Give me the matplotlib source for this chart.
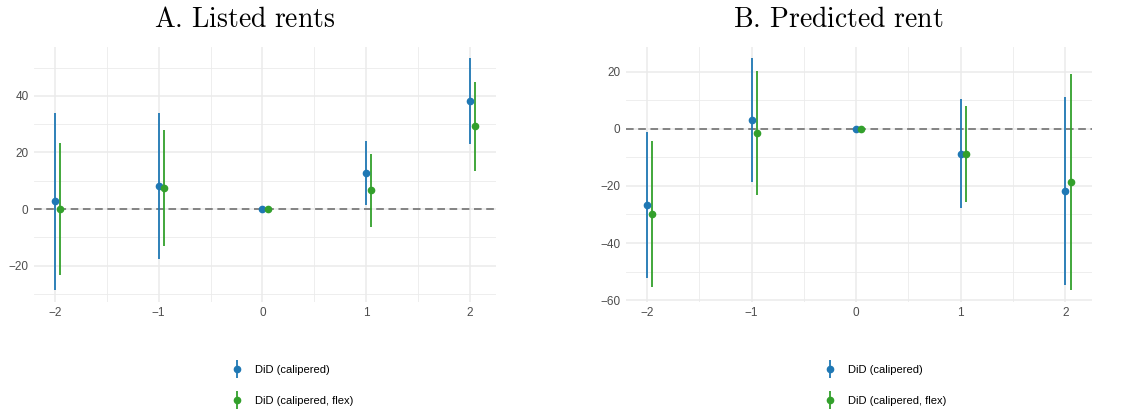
import numpy as np
import matplotlib.pyplot as plt
from matplotlib.lines import Line2D
from matplotlib.legend_handler import HandlerTuple

periods = [-2, -1, 0, 1, 2]
labels = ["DiD (calipered)", "DiD (calipered, flex)"]

# A. Listed rents
a_cal = [2.7, 8.3, 0.0, 12.6, 38.3]
a_cal_lo = [-28.6, -17.6, 0.0, 1.3, 23.0]
a_cal_hi = [34.0, 34.0, 0.0, 23.9, 53.3]
a_flex = [0.0, 7.4, 0.0, 6.6, 29.3]
a_flex_lo = [-23.4, -12.9, 0.0, -6.4, 13.3]
a_flex_hi = [23.4, 27.9, 0.0, 19.5, 45.0]

# B. Predicted rent
b_cal = [-26.6, 3.2, 0.0, -8.8, -21.7]
b_cal_lo = [-52.1, -18.7, 0.0, -27.9, -54.6]
b_cal_hi = [-1.0, 24.7, 0.0, 10.3, 11.2]
b_flex = [-29.7, -1.6, 0.0, -8.8, -18.7]
b_flex_lo = [-55.3, -23.3, 0.0, -25.5, -56.4]
b_flex_hi = [-4.3, 20.1, 0.0, 8.1, 19.1]

blue = "#1f78b4"
green = "#33a02c"
grid_col = "#ebebeb"

plt.rcParams["font.family"] = ["Liberation Sans", "DejaVu Sans"]
plt.rcParams["mathtext.fontset"] = "cm"


def panel(ax, series, yticks, yminor, ylim):
    x = np.array(periods, dtype=float)
    for (est, lo, hi), off, col in zip(series, [0.0, 0.05], [blue, green]):
        est = np.array(est)
        ax.vlines(x + off, lo, hi, color=col, lw=1.3, zorder=3)
        ax.plot(x + off, est, "o", color=col, ms=4.5, zorder=4)
    ax.axhline(0, color="#666666", lw=1.1, ls=(0, (5, 3)), zorder=2)
    ax.set_xlim(-2.2, 2.25)
    ax.set_ylim(*ylim)
    ax.set_xticks(periods)
    ax.set_xticklabels(["\u22122", "\u22121", "0", "1", "2"])
    ax.set_xticks([-1.5, -0.5, 0.5, 1.5], minor=True)
    ax.set_yticks(yticks)
    ax.set_yticklabels([str(t).replace("-", "\u2212") for t in yticks])
    ax.set_yticks(yminor, minor=True)
    ax.grid(True, which="major", color=grid_col, lw=1.1)
    ax.grid(True, which="minor", color=grid_col, lw=0.6)
    ax.set_axisbelow(True)
    for s in ax.spines.values():
        s.set_visible(False)
    ax.tick_params(which="both", length=0, labelsize=8.5, labelcolor="#4d4d4d", pad=4)


fig = plt.figure(figsize=(11.35, 4.12), dpi=100)
ax1 = fig.add_axes([0.030, 0.268, 0.407, 0.619])
ax2 = fig.add_axes([0.5515, 0.268, 0.4102, 0.619])

panel(ax1, [(a_cal, a_cal_lo, a_cal_hi), (a_flex, a_flex_lo, a_flex_hi)],
      [-20, 0, 20, 40], [-30, -10, 10, 30, 50], (-32.7, 57.4))
panel(ax2, [(b_cal, b_cal_lo, b_cal_hi), (b_flex, b_flex_lo, b_flex_hi)],
      [-60, -40, -20, 0, 20], [-50, -30, -10, 10], (-60.5, 28.8))

fig.text(245 / 1135, 1 - 27 / 412, r"$\mathrm{A.\,Listed\ rents}$", ha="center", va="baseline", fontsize=20)
fig.text(838 / 1135, 1 - 27 / 412, r"$\mathrm{B.\,Predicted\ rent}$", ha="center", va="baseline", fontsize=20)

handles = []
for col in [blue, green]:
    v = Line2D([], [], marker="|", markersize=13, markeredgewidth=1.3, color=col, ls="none")
    p = Line2D([], [], marker="o", markersize=4.5, color=col, ls="none")
    handles.append((v, p))

for mx in [236.5, 829.5]:
    fig.legend(handles, labels, handler_map={tuple: HandlerTuple(ndivide=1)},
               loc="upper left", bbox_to_anchor=((mx - 8) / 1135, 1 - 365 / 412),
               frameon=False, fontsize=8, handlelength=1.6, handletextpad=0.75,
               labelspacing=1.85, borderpad=0, borderaxespad=0)

fig.savefig("out.png", dpi=100, facecolor="white")
